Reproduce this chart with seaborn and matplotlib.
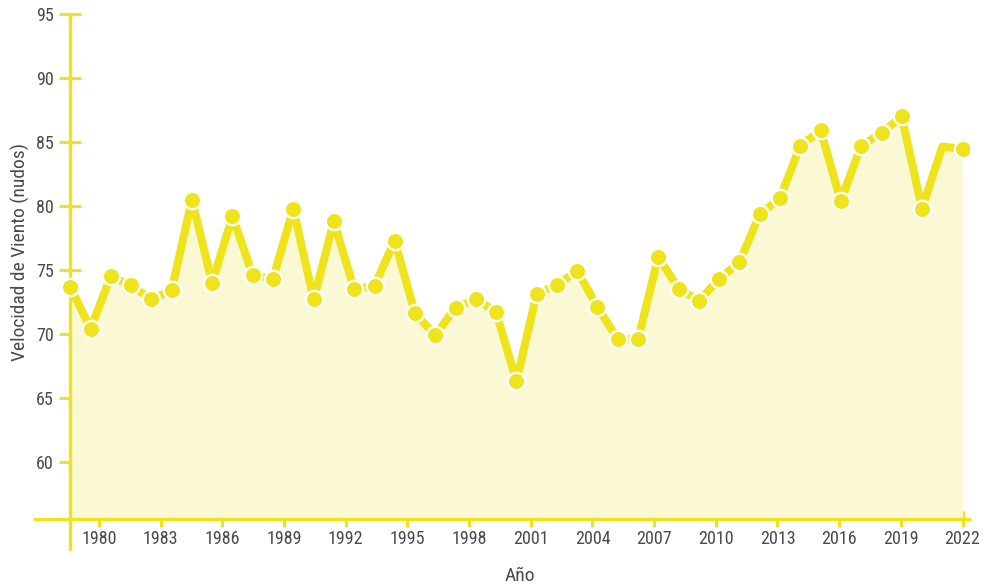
import matplotlib
matplotlib.use("Agg")
import matplotlib.pyplot as plt
import seaborn as sns
import pandas as pd
from matplotlib import font_manager

# ---- data ----
x_years = [1978.60, 1979.59, 1980.57, 1981.56, 1982.55, 1983.53, 1984.52, 1985.50,
           1986.49, 1987.48, 1988.46, 1989.45, 1990.44, 1991.42, 1992.41, 1993.40,
           1994.38, 1995.37, 1996.35, 1997.34, 1998.33, 1999.31, 2000.30, 2001.29,
           2002.27, 2003.26, 2004.24, 2005.23, 2006.22, 2007.20, 2008.19, 2009.18,
           2010.16, 2011.15, 2012.14, 2013.12, 2014.11, 2015.10, 2016.08, 2017.07,
           2018.06, 2019.04, 2020.03, 2021.02, 2022.00]
wind_knots = [73.7, 70.4, 74.5, 73.8, 72.7, 73.4, 80.5, 74.0,
              79.2, 74.6, 74.3, 79.8, 72.7, 78.8, 73.5, 73.75,
              77.3, 71.6, 69.9, 72.05, 72.7, 71.75, 66.3, 73.15,
              73.8, 74.95, 72.1, 69.6, 69.6, 76.0, 73.55, 72.6,
              74.3, 75.6, 79.35, 80.6, 84.7, 85.9, 80.4, 84.7,
              85.7, 87.0, 79.8, 84.65, 84.45]
x_ticks = [1980, 1983, 1986, 1989, 1992, 1995, 1998, 2001, 2004, 2007,
           2010, 2013, 2016, 2019, 2022]
y_ticks = [60, 65, 70, 75, 80, 85, 90, 95]

df = pd.DataFrame({"Año": x_years, "Velocidad": wind_knots})

sns.set_theme(style="white")
names = {f.name for f in font_manager.fontManager.ttflist}
fam = [f for f in ["Liberation Sans Narrow", "Roboto Condensed", "DejaVu Sans"] if f in names] or ["DejaVu Sans"]
plt.rcParams["font.family"] = fam + ["DejaVu Sans"]

YELLOW = "#EFE31C"
FILL = "#FAF9D3"
TEXT = "#4A4A4A"

fig = plt.figure(figsize=(9.84, 5.87), dpi=100)
ax = fig.add_axes([35 / 984, 38 / 587, 934 / 984, 535 / 587])

base = 55.55
ax.fill_between(df["Año"], df["Velocidad"], base, color=FILL, lw=0, zorder=1)
marks = [i for i in range(len(df)) if i != 43]
sns.lineplot(data=df, x="Año", y="Velocidad", ax=ax, color=YELLOW, lw=5.8,
             marker="o", markersize=12.5, markerfacecolor=YELLOW,
             markeredgecolor="white", markeredgewidth=1.7, markevery=marks,
             zorder=3)
for l in ax.lines:
    l.set_solid_joinstyle("round")

ax.set_xlim(1976.887, 2022.315)
ax.set_ylim(53.2, 95)

for s in ["top", "right"]:
    ax.spines[s].set_visible(False)
ax.spines["left"].set_position(("data", 1978.59))
ax.spines["bottom"].set_position(("data", base))
for s in ["left", "bottom"]:
    ax.spines[s].set_color(YELLOW)
    ax.spines[s].set_linewidth(2.4)
    ax.spines[s].set_zorder(2)

ax.set_xticks(x_ticks)
ax.set_xticklabels([str(t) for t in x_ticks])
ax.set_yticks(y_ticks)
ax.set_yticklabels([str(t) for t in y_ticks])
ax.tick_params(axis="y", direction="inout", length=16, width=2.2, color=YELLOW,
               labelsize=13, labelcolor=TEXT, pad=3.5, left=True)
ax.tick_params(axis="x", direction="inout", length=11.5, width=2.2, color=YELLOW,
               labelsize=13, labelcolor=TEXT, pad=2.5, bottom=True)

ax.set_xlabel("Año", fontsize=14, color=TEXT)
ax.set_ylabel("Velocidad de Viento (nudos)", fontsize=14, color=TEXT)
ax.xaxis.set_label_coords((520 - 35) / 934, -(576 - 549) / 535)
ax.yaxis.set_label_coords(-(35 - 20) / 934, (549 - 252) / 535)
ax.xaxis.label.set_va("center")
ax.yaxis.label.set_va("center")
ax.grid(False)
ax.set_facecolor("none")

fig.savefig("out.png", dpi=100)
